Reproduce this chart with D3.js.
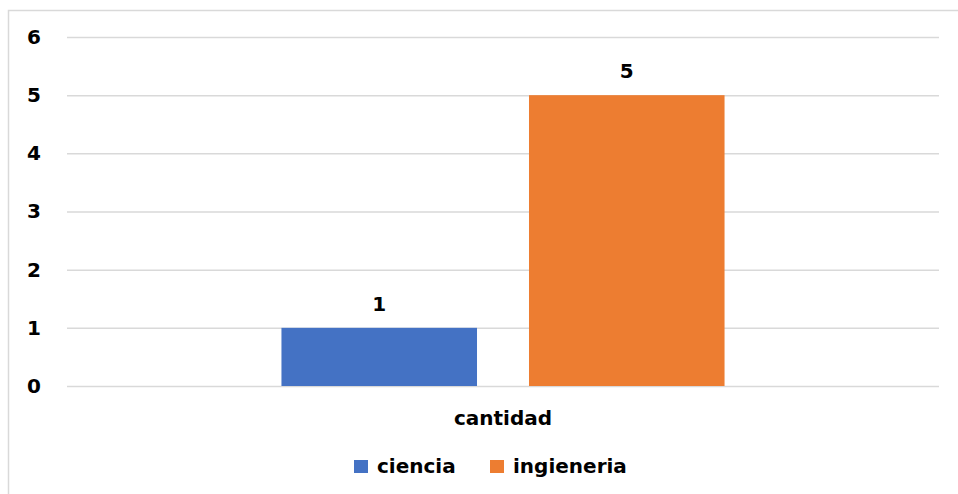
<!DOCTYPE html>
<html><head><meta charset="utf-8">
<script src="https://cdn.jsdelivr.net/npm/d3@7"></script>
<style>body{margin:0;background:#fff}svg{display:block}text{font-family:"DejaVu Sans",sans-serif;font-weight:bold;fill:#000}</style>
</head><body><svg id="c" width="958" height="494"></svg>
<script>
const categories = ["cantidad"];
const seriesNames = ["ciencia", "ingieneria"];
const seriesValues = [[1], [5]];
const colors = ["#4472C4", "#ED7D31"];
const yTicks = [0, 1, 2, 3, 4, 5, 6];

(function () {
const svg = d3.select("#c");
svg.append("rect").attr("x", 8.5).attr("y", 10.5).attr("width", 960).attr("height", 500)
  .attr("fill", "#fff").attr("stroke", "#d9d9d9").attr("stroke-width", 1.5);

const mL = 67, mR = 939, mT = 37, mB = 386;
const y = d3.scaleLinear().domain([0, 6]).range([mB, mT]);
const x0 = d3.scaleBand().domain(categories).range([mL, mR]).paddingInner(0).paddingOuter(0.484);
const x1 = d3.scaleBand().domain(seriesNames).range([0, x0.bandwidth()]).paddingInner(0.21).paddingOuter(0);

const yAxis = svg.append("g").attr("transform", `translate(${mL},0)`)
  .call(d3.axisLeft(y).tickValues(yTicks).tickSize(-(mR - mL)).tickPadding(26).tickFormat(d3.format("d")));
yAxis.select(".domain").remove();
yAxis.selectAll("line").attr("stroke", "#d9d9d9").attr("stroke-width", 1.5);
yAxis.selectAll("text").attr("font-size", 20).attr("fill", "#000").attr("font-family", "DejaVu Sans");

const g = svg.append("g");
categories.forEach((c, ci) => {
  seriesNames.forEach((s, si) => {
    const v = seriesValues[si][ci];
    const bx = x0(c) + x1(s);
    g.append("rect").attr("x", bx).attr("y", y(v)).attr("width", x1.bandwidth()).attr("height", y(0) - y(v)).attr("fill", colors[si]);
    g.append("text").attr("x", bx + x1.bandwidth() / 2).attr("y", y(v) - 17).attr("text-anchor", "middle").attr("font-size", 20).text(v);
  });
  svg.append("text").attr("x", x0(c) + x0.bandwidth() / 2).attr("y", 425).attr("text-anchor", "middle").attr("font-size", 20).text(c);
});

const legendX = [354, 490];
seriesNames.forEach((s, i) => {
  svg.append("rect").attr("x", legendX[i]).attr("y", 460).attr("width", 14).attr("height", 13).attr("fill", colors[i]);
  svg.append("text").attr("x", legendX[i] + 23).attr("y", 473).attr("font-size", 20).text(s);
});
})();
</script></body></html>
